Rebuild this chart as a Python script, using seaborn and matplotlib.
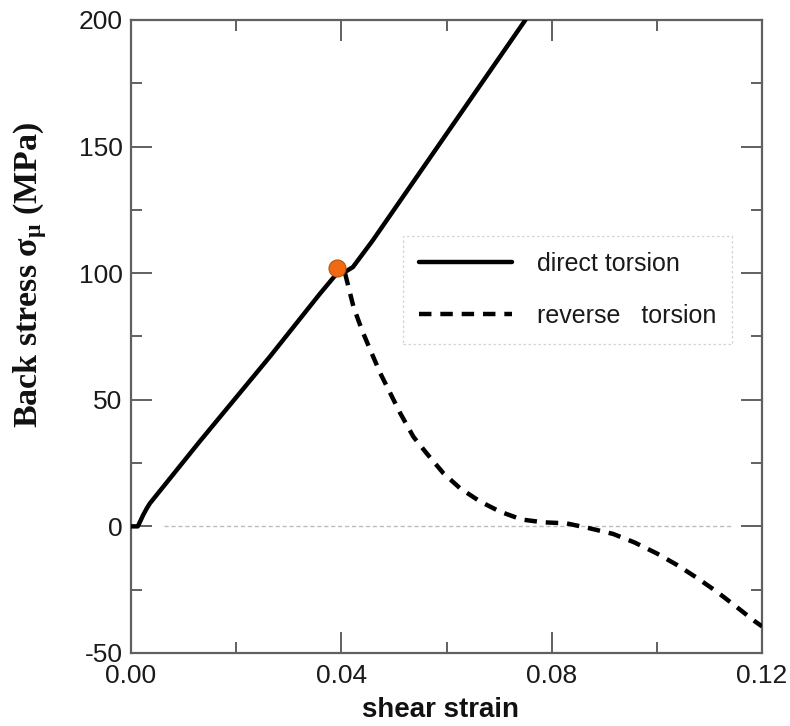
import matplotlib
matplotlib.use('Agg')
import matplotlib.pyplot as plt
import seaborn as sns
import numpy as np

# ---------- data ----------
direct_x = [0.0, 0.0013, 0.0023, 0.0030, 0.0036, 0.0131, 0.0264, 0.0359,
            0.0390, 0.0407, 0.0422, 0.0460, 0.0750]
direct_y = [0.0, 0.0, 4.4, 7.1, 9.1, 33.6, 67.0, 91.8,
            99.5, 100.5, 102.4, 113.0, 200.0]

reverse_x = [0.0407, 0.0423, 0.0439, 0.0455, 0.0474, 0.0493, 0.0512, 0.0537,
             0.0562, 0.0594, 0.0626, 0.0664, 0.0702, 0.0743, 0.0784, 0.0828,
             0.0873, 0.0917, 0.0958, 0.1000, 0.1038, 0.1076, 0.1114, 0.1149,
             0.1187, 0.1200]
reverse_y = [100.0, 86.8, 77.6, 69.7, 60.5, 52.6, 44.7, 35.4,
             28.9, 21.0, 15.0, 9.8, 5.8, 2.7, 1.6, 1.2,
             -0.8, -3.0, -6.4, -10.7, -15.2, -20.3, -25.8, -31.4,
             -37.6, -39.5]

reversal_x = [0.0391]
reversal_y = [102.0]

zero_x = [0.0063, 0.1143]
zero_y = [0.0, 0.0]

x_ticks = [0.00, 0.04, 0.08, 0.12]
x_tick_labels = ['0.00', '0.04', '0.08', '0.12']
y_ticks = [-50, 0, 50, 100, 150, 200]

# ---------- style ----------
sns.set_style('ticks')
plt.rcParams['font.family'] = ['Liberation Sans', 'DejaVu Sans']
plt.rcParams['axes.unicode_minus'] = False
plt.rcParams['mathtext.fontset'] = 'custom'
plt.rcParams['mathtext.rm'] = 'Liberation Serif:bold'
plt.rcParams['mathtext.it'] = 'Liberation Serif:bold'
plt.rcParams['mathtext.bf'] = 'Liberation Serif:bold'

fig = plt.figure(figsize=(7.9, 7.26), dpi=100)
ax = fig.add_axes([0.1658, 0.1006, 0.7988, 0.8719])

# zero reference line
ax.plot(zero_x, zero_y, color='#bdbdbd', lw=1.0, linestyle=(0, (3, 2)), zorder=1)

sns.lineplot(x=direct_x, y=direct_y, ax=ax, color='black', lw=3.2,
             sort=False, label='direct torsion', zorder=3)
sns.lineplot(x=reverse_x, y=reverse_y, ax=ax, color='black', lw=3.2,
             sort=False, linestyle=(0, (2.8, 2.0)), label='reverse   torsion', zorder=3)
sns.scatterplot(x=reversal_x, y=reversal_y, ax=ax, s=150, color='#ef6a12',
                edgecolor='#b8500f', linewidth=0.8, zorder=5, legend=False)

ax.set_xlim(0, 0.12)
ax.set_ylim(-50, 200)
ax.set_xticks(x_ticks)
ax.set_xticklabels(x_tick_labels)
ax.set_yticks(y_ticks)
ax.set_xticks(np.arange(0.02, 0.12, 0.04), minor=True)
ax.set_yticks(np.arange(-25, 200, 50), minor=True)

spine_col = '#606060'
for s in ax.spines.values():
    s.set_visible(True)
    s.set_color(spine_col)
    s.set_linewidth(1.6)

ax.tick_params(which='both', direction='in', top=True, right=True,
               color=spine_col, width=1.4, labelsize=19, labelcolor='#1a1a1a')
ax.tick_params(which='major', length=15)
ax.tick_params(axis='y', which='major', pad=6)
ax.tick_params(axis='x', which='major', pad=8)
ax.tick_params(which='minor', length=8)

ax.set_xlabel('shear strain', fontsize=20, fontweight='bold', color='#111111')
ax.xaxis.set_label_coords(0.491, -0.069)
ax.set_ylabel(r'Back stress σ$_{\mathrm{μ}}$ (MPa)', fontsize=24.5,
              fontweight='bold', family='Liberation Serif', color='#111111')
ax.yaxis.set_label_coords(-0.13, 0.597)

leg = ax.legend(loc='upper left', bbox_to_anchor=(0.431, 0.659), fontsize=18,
                handlelength=3.7, handletextpad=1.0, labelspacing=1.1,
                borderpad=0.65, borderaxespad=0, frameon=True, fancybox=False)
leg.get_frame().set_edgecolor('#c8c8c8')
leg.get_frame().set_linestyle((0, (2, 2)))
leg.get_frame().set_linewidth(0.9)
for t in leg.get_texts():
    t.set_color('#1a1a1a')

fig.savefig('out.png', dpi=100)
